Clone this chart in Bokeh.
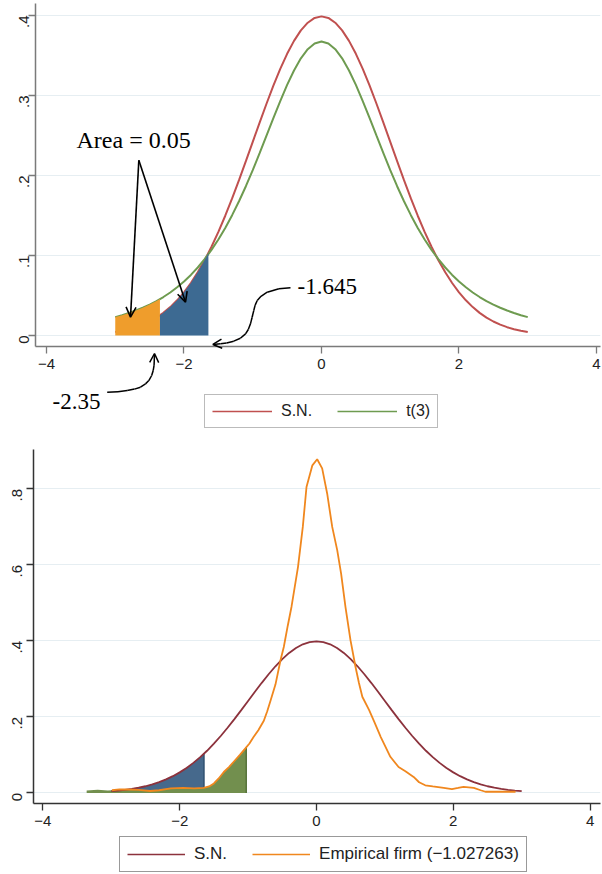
from bokeh.plotting import figure
from bokeh.models import (ColumnDataSource, FixedTicker, Legend, LegendItem, Label,
                          Arrow, OpenHead, Range1d, GridBox)
from bokeh.embed import file_html
from bokeh.resources import INLINE

# ---------------- data ----------------
x_grid = [-3.0, -2.9, -2.8, -2.7, -2.6, -2.5, -2.4, -2.3, -2.2, -2.1, -2.0,
          -1.9, -1.8, -1.7, -1.6, -1.5, -1.4, -1.3, -1.2, -1.1, -1.0,
          -0.9, -0.8, -0.7, -0.6, -0.5, -0.4, -0.3, -0.2, -0.1, 0.0,
          0.1, 0.2, 0.3, 0.4, 0.5, 0.6, 0.7, 0.8, 0.9, 1.0,
          1.1, 1.2, 1.3, 1.4, 1.5, 1.6, 1.7, 1.8, 1.9, 2.0,
          2.1, 2.2, 2.3, 2.4, 2.5, 2.6, 2.7, 2.8, 2.9, 3.0]
sn_density = [0.0044, 0.0060, 0.0079, 0.0104, 0.0136, 0.0175, 0.0224, 0.0283, 0.0355, 0.0440, 0.0540,
              0.0656, 0.0790, 0.0940, 0.1109, 0.1295, 0.1497, 0.1714, 0.1942, 0.2179, 0.2420,
              0.2661, 0.2897, 0.3123, 0.3332, 0.3521, 0.3683, 0.3814, 0.3910, 0.3970, 0.3989,
              0.3970, 0.3910, 0.3814, 0.3683, 0.3521, 0.3332, 0.3123, 0.2897, 0.2661, 0.2420,
              0.2179, 0.1942, 0.1714, 0.1497, 0.1295, 0.1109, 0.0940, 0.0790, 0.0656, 0.0540,
              0.0440, 0.0355, 0.0283, 0.0224, 0.0175, 0.0136, 0.0104, 0.0079, 0.0060, 0.0044]
t3_density = [0.0230, 0.0254, 0.0282, 0.0312, 0.0347, 0.0387, 0.0431, 0.0481, 0.0538, 0.0603, 0.0675,
              0.0757, 0.0850, 0.0954, 0.1070, 0.1200, 0.1345, 0.1504, 0.1678, 0.1866, 0.2067,
              0.2279, 0.2497, 0.2716, 0.2930, 0.3132, 0.3313, 0.3465, 0.3579, 0.3651, 0.3676,
              0.3651, 0.3579, 0.3465, 0.3313, 0.3132, 0.2930, 0.2716, 0.2497, 0.2279, 0.2067,
              0.1866, 0.1678, 0.1504, 0.1345, 0.1200, 0.1070, 0.0954, 0.0850, 0.0757, 0.0675,
              0.0603, 0.0538, 0.0481, 0.0431, 0.0387, 0.0347, 0.0312, 0.0282, 0.0254, 0.0230]

# top panel shaded tails
t3_tail_x = [-3.0, -2.9, -2.8, -2.7, -2.6, -2.5, -2.4, -2.35]
t3_tail_y = [0.0230, 0.0254, 0.0282, 0.0312, 0.0347, 0.0387, 0.0431, 0.0455]
sn_tail_x = [-2.35, -2.3, -2.2, -2.1, -2.0, -1.9, -1.8, -1.7, -1.645]
sn_tail_y = [0.0252, 0.0283, 0.0355, 0.0440, 0.0540, 0.0656, 0.0790, 0.0940, 0.1031]

# bottom panel
sn_tail2_x = [-3.0, -2.9, -2.8, -2.7, -2.6, -2.5, -2.4, -2.3, -2.2, -2.1, -2.0, -1.9, -1.8, -1.7, -1.645]
sn_tail2_y = [0.0044, 0.0060, 0.0079, 0.0104, 0.0136, 0.0175, 0.0224, 0.0283, 0.0355, 0.0440, 0.0540,
              0.0656, 0.0790, 0.0940, 0.1031]
emp_x = [-2.99, -2.88, -2.77, -2.6, -2.43, -2.3, -2.13, -1.95, -1.79, -1.65, -1.57, -1.50, -1.43,
         -1.355, -1.28, -1.21, -1.12, -1.04, -0.98, -0.92, -0.85, -0.77, -0.72, -0.67, -0.60, -0.526,
         -0.478, -0.42, -0.365, -0.27, -0.20, -0.146, -0.06, 0.01, 0.083, 0.156, 0.23, 0.303, 0.36,
         0.424, 0.497, 0.57, 0.62, 0.67, 0.77, 0.85, 0.94, 1.08, 1.20, 1.30, 1.42, 1.50, 1.59, 1.70,
         1.86, 1.98, 2.07, 2.15, 2.30, 2.40, 2.47, 2.69, 2.91]
emp_y = [0.007, 0.009, 0.009, 0.008, 0.005, 0.007, 0.012, 0.013, 0.012, 0.013, 0.017, 0.025, 0.038,
         0.055, 0.068, 0.082, 0.100, 0.117, 0.130, 0.147, 0.165, 0.190, 0.215, 0.244, 0.285, 0.349,
         0.384, 0.440, 0.490, 0.595, 0.700, 0.805, 0.862, 0.878, 0.854, 0.788, 0.700, 0.639, 0.577,
         0.489, 0.402, 0.332, 0.290, 0.253, 0.218, 0.185, 0.147, 0.095, 0.068, 0.057, 0.042, 0.028,
         0.020, 0.017, 0.013, 0.010, 0.013, 0.016, 0.013, 0.007, 0.003, 0.003, 0.003]
emp_tail_x = [-3.36, -3.2, -3.05, -2.99, -2.88, -2.77, -2.6, -2.43, -2.3, -2.13, -1.95, -1.79, -1.65,
              -1.57, -1.50, -1.43, -1.355, -1.28, -1.21, -1.12, -1.04, -1.027]
emp_tail_y = [0.006, 0.008, 0.006, 0.007, 0.009, 0.009, 0.008, 0.005, 0.007, 0.012, 0.013, 0.012, 0.013,
              0.017, 0.025, 0.038, 0.055, 0.068, 0.082, 0.100, 0.117, 0.120]

x_ticks = [-4, -2, 0, 2, 4]
x_tick_labels = ["\u22124", "\u22122", "0", "2", "4"]
top_y_ticks = [0, 0.1, 0.2, 0.3, 0.4]
top_y_labels = ["0", ".1", ".2", ".3", ".4"]
bot_y_ticks = [0, 0.2, 0.4, 0.6, 0.8]
bot_y_labels = ["0", ".2", ".4", ".6", ".8"]
top_legend_labels = ["S.N.", "t(3)"]
bot_legend_labels = ["S.N.", "Empirical firm (\u22121.027263)"]

FONT = "Liberation Sans"
SERIF = "Liberation Serif"

# colours
C_SN_TOP, C_T3 = "#C0504F", "#6E9B50"
C_SN_BOT, C_EMP = "#8C323C", "#F0871E"


def style(p, yt, yl, axis_color, label_standoff_y):
    p.outline_line_color = None
    p.xgrid.visible = False
    p.ygrid.ticker = FixedTicker(ticks=yt)
    p.ygrid.grid_line_color = "#E6EEF2"
    p.ygrid.grid_line_width = 1.2
    p.xaxis.ticker = FixedTicker(ticks=x_ticks)
    p.xaxis.major_label_overrides = {t: l for t, l in zip(x_ticks, x_tick_labels)}
    p.yaxis.ticker = FixedTicker(ticks=yt)
    p.yaxis.major_label_overrides = {t: l for t, l in zip(yt, yl)}
    p.yaxis.major_label_orientation = 1.5707963
    for ax in (p.xaxis, p.yaxis):
        ax.axis_line_color = axis_color
        ax.axis_line_width = 1.5
        ax.major_tick_line_color = axis_color
        ax.major_tick_line_width = 1.3
        ax.major_tick_out = 7
        ax.major_tick_in = 0
        ax.minor_tick_line_color = None
        ax.major_label_text_font = FONT
        ax.major_label_text_font_size = "15px"
        ax.major_label_text_color = "#222222"
    p.xaxis.major_label_standoff = 5
    p.yaxis.major_label_standoff = label_standoff_y


def overlay(width, height, xr, yr):
    o = figure(width=width, height=height, output_backend="svg", toolbar_location=None,
               x_range=Range1d(*xr), y_range=Range1d(*yr), x_axis_type=None, y_axis_type=None,
               min_border=0, min_border_left=0, min_border_right=0, min_border_top=0,
               min_border_bottom=0, frame_align=False)
    o.background_fill_color = None
    o.border_fill_color = None
    o.outline_line_color = None
    return o


def legend(o, labels, xs, ys, colors, widths, loc, glyph_w, standoff, size, border):
    items = []
    for lab, x, y, col, lw in zip(labels, xs, ys, colors, widths):
        r = o.line(x=x, y=y, line_color=col, line_width=lw, visible=False)
        items.append(LegendItem(label=lab, renderers=[r]))
    leg = Legend(items=items, location=loc, orientation="horizontal",
                 glyph_width=glyph_w, glyph_height=16, label_standoff=standoff, spacing=25,
                 padding=7, margin=0, label_text_font=FONT, label_text_font_size=size,
                 label_text_color="#222222", border_line_color=border, border_line_width=1.2,
                 background_fill_color="white", inactive_fill_alpha=0)
    o.add_layout(leg)


# ---------------- top chart ----------------
W = 602
H1, H2 = 438, 436
p1 = figure(width=W, height=H1, output_backend="svg", toolbar_location=None,
            x_range=Range1d(-4.16, 4.0582), y_range=Range1d(-0.01375, 0.415),
            min_border_left=35, min_border_right=2, min_border_top=3, min_border_bottom=92,
            frame_align=False)
style(p1, top_y_ticks, top_y_labels, "#7a7a7a", 5)

p1.line(x_grid, sn_density, line_color=C_SN_TOP, line_width=2)
p1.line(x_grid, t3_density, line_color=C_T3, line_width=2)
p1.varea(x=t3_tail_x, y1=0, y2=t3_tail_y, fill_color="#EF9D2C")
p1.varea(x=sn_tail_x, y1=0, y2=sn_tail_y, fill_color="#3D6A92")

# transparent overlay carrying the annotations, same data mapping as p1 over the whole canvas
o1 = overlay(W, H1, (-4.16 - 35 / 68.75, 4.0582 + 2 / 68.75),
             (-0.01375 - 92 / 800.0, 0.415 + 3 / 800.0))

o1.add_layout(Label(x=-3.5636, y=0.2444, text="Area = 0.05", text_font=SERIF,
                    text_font_size="24px", text_color="black", text_baseline="middle"))
o1.add_layout(Label(x=-0.349, y=0.0613, text="-1.645", text_font=SERIF,
                    text_font_size="23px", text_color="black", text_baseline="middle"))
o1.add_layout(Label(x=-3.913, y=-0.0825, text="-2.35", text_font=SERIF,
                    text_font_size="23px", text_color="black", text_baseline="middle"))

for xe, ye in [(-2.778, 0.0229), (-1.978, 0.0416)]:
    o1.add_layout(Arrow(x_start=-2.657, y_start=0.219, x_end=xe, y_end=ye,
                        line_width=1.6, line_color="black",
                        end=OpenHead(size=10, line_width=1.6, line_color="black")))

curve1 = [(-0.451, 0.0596), (-0.62, 0.0585), (-0.790, 0.0541), (-0.88, 0.0490), (-0.935, 0.0438),
          (-0.965, 0.0380), (-0.985, 0.0313), (-1.010, 0.0225), (-1.033, 0.0146), (-1.065, 0.0075),
          (-1.105, 0.0021), (-1.18, -0.0035), (-1.276, -0.0071), (-1.38, -0.0093), (-1.469, -0.0104)]
curve2 = [(-3.117, -0.0709), (-2.96, -0.0703), (-2.826, -0.0688), (-2.72, -0.0670), (-2.633, -0.0646),
          (-2.56, -0.0605), (-2.512, -0.0563), (-2.47, -0.0500), (-2.448, -0.0438), (-2.435, -0.0370)]
for crv, tip in [(curve1, (-1.58, -0.0112)), (curve2, (-2.429, -0.0225))]:
    src = ColumnDataSource(dict(x0=[c[0] for c in crv[:-1]], y0=[c[1] for c in crv[:-1]],
                                x1=[c[0] for c in crv[1:]], y1=[c[1] for c in crv[1:]]))
    o1.add_layout(Arrow(source=src, x_start="x0", y_start="y0", x_end="x1", y_end="y1",
                        end=None, line_width=1.5, line_color="black"))
    o1.add_layout(Arrow(x_start=crv[-1][0], y_start=crv[-1][1], x_end=tip[0], y_end=tip[1],
                        line_width=1.5, line_color="black",
                        end=OpenHead(size=9, line_width=1.5, line_color="black")))

legend(o1, top_legend_labels, [x_grid, x_grid], [sn_density, t3_density], [C_SN_TOP, C_T3],
       [1.6, 1.6], (204, 10), 60, 9, "16px", "#777777")

# ---------------- bottom chart ----------------
p2 = figure(width=W, height=H2, output_backend="svg", toolbar_location=None,
            x_range=Range1d(-4.137, 4.152), y_range=Range1d(-0.0279, 0.9037),
            min_border_left=33, min_border_right=2, min_border_top=11, min_border_bottom=71,
            frame_align=False)
style(p2, bot_y_ticks, bot_y_labels, "#333333", 9)

p2.varea(x=sn_tail2_x, y1=0, y2=sn_tail2_y, fill_color="#46698C")
p2.line([sn_tail2_x[-1], sn_tail2_x[-1]], [0, sn_tail2_y[-1]], line_color="#2f5070", line_width=1.5)
p2.varea(x=emp_tail_x, y1=0, y2=emp_tail_y, fill_color="#728F4E")
p2.line([emp_tail_x[-1], emp_tail_x[-1]], [0, emp_tail_y[-1]], line_color="#57733a", line_width=1.5)
p2.line(x_grid, sn_density, line_color=C_SN_BOT, line_width=1.8)
p2.line(emp_x, emp_y, line_color=C_EMP, line_width=1.8)

o2 = overlay(W, H2, (-4.137 - 33 / 68.4, 4.152 + 2 / 68.4),
             (-0.0279 - 71 / 380.0, 0.9037 + 11 / 380.0))
legend(o2, bot_legend_labels, [x_grid, emp_x], [sn_density, emp_y], [C_SN_BOT, C_EMP],
       [1.5, 1.5], (119, 2), 58, 9, "17px", "#333333")

layout = GridBox(children=[(p1, 0, 0), (o1, 0, 0), (p2, 1, 0), (o2, 1, 0)], spacing=0)
open("out.html", "w").write(file_html(layout, INLINE))
